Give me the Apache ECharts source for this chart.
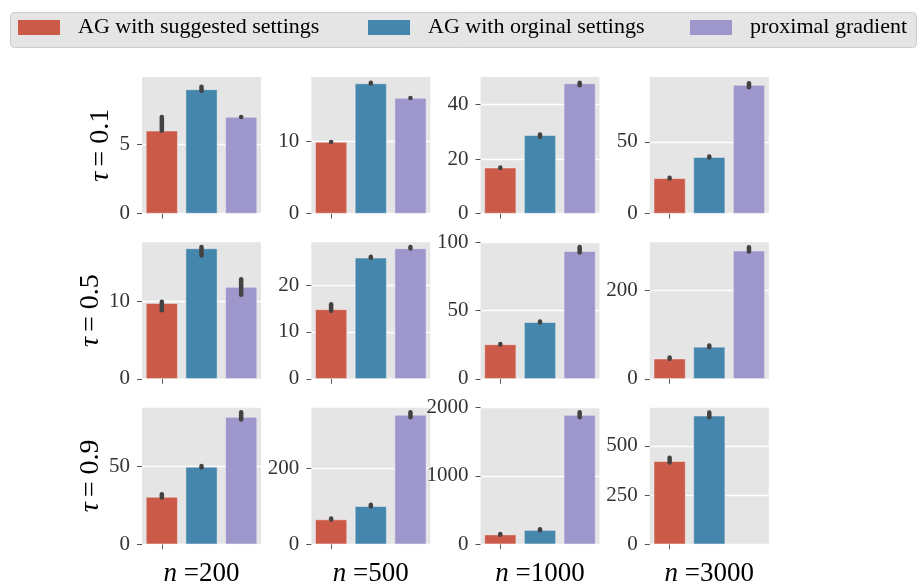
<!DOCTYPE html>
<html>
<head>
<meta charset="utf-8">
<script src="https://cdn.jsdelivr.net/npm/echarts@6/dist/echarts.min.js"></script>
<style>html,body{margin:0;padding:0;background:#fff}#c{width:917px;height:584px}</style>
</head>
<body>
<div id="c"></div>
<script>
const methods = ['AG with suggested settings', 'AG with orginal settings', 'proximal gradient'];
const tauLabels = ['0.1', '0.5', '0.9'];
const nLabels = ['200', '500', '1000', '3000'];

// bar heights (mean) per [tau row][n column]
const agSuggested = [[6.0, 9.9, 16.8, 24.6], [9.8, 14.8, 25.2, 45.3], [30.3, 65, 140, 422]];
const agOriginal  = [[9.0, 18.0, 28.7, 39.4], [16.9, 25.8, 41.4, 72], [49.6, 100, 206, 653]];
const proximal    = [[7.0, 16.0, 47.7, 89.8], [11.9, 27.8, 93.5, 289], [81.6, 341, 1892, null]];

// confidence intervals [low, high]
const agSuggestedCI = [
  [[6.0, 7.0], [9.9, 9.9], [16.7, 16.9], [24.4, 24.9]],
  [[8.9, 10.0], [14.5, 15.9], [25.1, 25.5], [45, 48]],
  [[30, 32], [65, 68], [140, 150], [416, 440]]
];
const agOriginalCI = [
  [[8.9, 9.2], [18.0, 18.1], [28.2, 29.0], [39.2, 39.8]],
  [[16.0, 17.1], [25.8, 26.0], [41.3, 41.9], [71, 75]],
  [[49.2, 50.2], [100, 104], [206, 218], [645, 670]]
];
const proximalCI = [
  [[7.0, 7.0], [16.0, 16.0], [47.1, 48.0], [88.2, 91.0]],
  [[10.9, 12.9], [27.8, 28.1], [92.5, 96.5], [287, 297]],
  [[80.0, 84.6], [335, 348], [1860, 1935], null]
];

// y-axis extents and tick values
const yMax = [[9.9, 18.9, 50.1, 95.4], [17.7, 29.1, 100, 308], [87.6, 360, 2000, 694]];
const yTicks = [
  [[0, 5], [0, 10], [0, 20, 40], [0, 50]],
  [[0, 10], [0, 10, 20], [0, 50, 100], [0, 200]],
  [[0, 50], [0, 200], [0, 1000, 2000], [0, 250, 500]]
];

const colors = ['#CC5A49', '#4586AC', '#9E97CC'];
const FONT = 'Liberation Serif';
const means = [agSuggested, agOriginal, proximal];
const cis = [agSuggestedCI, agOriginalCI, proximalCI];

const colLeft = [142, 311.3, 480.5, 649.8];
const rowTop = [77, 242.3, 407.7];
const W = 119, H = 136.5;

const nameStyle = {fontFamily: FONT, fontSize: 27, color: '#000',
  rich: {i: {fontFamily: FONT, fontSize: 27, fontStyle: 'italic', color: '#000'},
         t: {fontFamily: FONT, fontSize: 28, fontStyle: 'italic', color: '#000', padding: [0, 5, 0, 0]},
         v: {fontFamily: FONT, fontSize: 28, color: '#000'}}};

const grid = [], xAxis = [], yAxis = [], series = [];
for (let r = 0; r < 3; r++) {
  for (let c = 0; c < 4; c++) {
    const g = r * 4 + c;
    grid.push({left: colLeft[c], top: rowTop[r], width: W, height: H, show: true,
      containLabel: false, outerBoundsMode: 'none',
      backgroundColor: '#E5E5E5', borderWidth: 0});
    xAxis.push({
      type: 'category', gridIndex: g, data: methods, boundaryGap: true,
      axisLine: {show: false},
      axisTick: {show: true, alignWithLabel: true, length: 5, lineStyle: {color: '#555', width: 1}},
      axisLabel: {show: false},
      splitLine: {show: false},
      name: r === 2 ? '{i|n} =' + nLabels[c] : '',
      nameLocation: 'middle', nameGap: 16,
      nameTextStyle: nameStyle
    });
    const ticks = yTicks[r][c];
    yAxis.push({
      type: 'value', gridIndex: g, min: 0, max: yMax[r][c],
      interval: ticks[1] - ticks[0],
      axisLine: {show: false},
      axisTick: {show: true, length: 5, customValues: ticks, lineStyle: {color: '#555', width: 1}},
      axisLabel: {show: true, margin: 12, customValues: ticks, fontFamily: FONT, fontSize: 21, color: '#333',
        formatter: v => String(v)},
      splitLine: {show: true, lineStyle: {color: '#fff', width: 1.4}},
      name: c === 0 ? '{t|τ}{v|= ' + tauLabels[r] + '}' : '',
      nameLocation: 'middle', nameGap: 27, nameRotate: 90,
      nameTextStyle: nameStyle
    });
    for (let k = 0; k < 3; k++) {
      const d = [null, null, null];
      d[k] = means[k][r][c];
      series.push({
        type: 'bar', name: methods[k], xAxisIndex: g, yAxisIndex: g, data: d,
        barGap: '-100%', barCategoryGap: '20%',
        itemStyle: {color: colors[k], borderColor: '#EEEEEE', borderWidth: 0.5},
        animation: false, silent: true
      });
    }
    const errData = [];
    for (let k = 0; k < 3; k++) {
      const ci = cis[k][r][c];
      if (ci) errData.push([k, ci[0], ci[1]]);
    }
    series.push({
      type: 'custom', xAxisIndex: g, yAxisIndex: g, data: errData,
      encode: {x: 0, y: [1, 2]}, animation: false, silent: true, z: 5,
      renderItem: function (params, api) {
        const x = api.value(0);
        const p1 = api.coord([x, api.value(1)]);
        const p2 = api.coord([x, api.value(2)]);
        if (Math.abs(p1[1] - p2[1]) < 0.5) {
          return {type: 'circle', shape: {cx: p1[0], cy: (p1[1] + p2[1]) / 2, r: 2.3},
            style: {fill: '#424242'}};
        }
        return {type: 'line', shape: {x1: p1[0], y1: p1[1], x2: p2[0], y2: p2[1]},
          style: {stroke: '#424242', lineWidth: 4.5, lineCap: 'round'}};
      }
    });
  }
}

const legendLefts = [18, 368, 690];
const legend = methods.map((m, k) => ({
  data: [m], left: legendLefts[k], top: 16.5, padding: 0, selectedMode: false,
  icon: 'rect', itemWidth: 42, itemHeight: 15,
  itemStyle: {borderWidth: 0},
  textStyle: {fontFamily: FONT, fontSize: 22, lineHeight: 22, color: '#000', padding: [0, 0, 0, 13]}
}));

const chart = echarts.init(document.getElementById('c'), null, {renderer: 'canvas'});
chart.setOption({
  animation: false,
  backgroundColor: '#fff',
  graphic: [{type: 'rect', left: 10, top: 12, z: -10,
    shape: {width: 906, height: 35, r: 4},
    style: {fill: '#E5E5E5', stroke: '#CCCCCC', lineWidth: 1}}],
  legend, grid, xAxis, yAxis, series
});
</script>
</body>
</html>
